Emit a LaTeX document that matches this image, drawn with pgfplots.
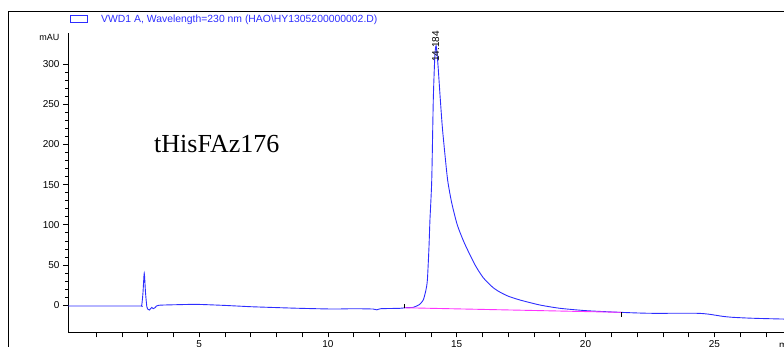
\documentclass[border=0pt]{standalone}
\usepackage{pgfplots}
\pgfplotsset{compat=1.18}
\usepackage{fontspec}
\setmainfont{Liberation Sans}
\newfontfamily\timesfont{Liberation Serif}
\definecolor{curveblue}{RGB}{45,45,255}
\definecolor{pinkline}{RGB}{255,50,255}
\begin{document}
\begin{tikzpicture}[x=1pt,y=1pt]
\useasboundingbox (0,0) rectangle (784,346);
\clip (0,0) rectangle (784,346);
\draw[line width=1pt] (8,-10) -- (8,334) -- (800,334);
\draw[curveblue, line width=0.8pt] (70,331) rectangle (87,323.5);
\node[anchor=base west, inner sep=0, text=curveblue, font=\fontsize{10.4}{12}\selectfont] at (101,323.5) {VWD1 A, Wavelength=230 nm (HAO\textbackslash HY1305200000002.D)};
\node[anchor=east, inner sep=0, font=\fontsize{9}{11}\selectfont] at (59.5,309) {mAU};
\node[anchor=base west, inner sep=0, font=\timesfont\fontsize{26}{30}\selectfont] at (154,193.7) {tHisFAz176};
\begin{axis}[
  at={(68pt,13.7pt)}, anchor=south west, scale only axis,
  width=736.5pt, height=299pt,
  xmin=-0.09, xmax=28.5, ymin=-34, ymax=338.6,
  axis x line*=bottom, axis y line*=left,
  axis line style={-, line width=0.8pt, black},
  tick align=outside,
  major tick length=5pt, minor tick length=3pt,
  tick style={black, line width=0.6pt},
  xtick={5,10,15,20,25},
  extra x ticks={1,2,3,4,6,7,8,9,11,12,13,14,16,17,18,19,21,22,23,24,26,27,28},
  extra x tick labels={},
  ytick={0,50,100,150,200,250,300},
  minor y tick num=4,
  tick label style={font=\fontsize{10}{12}\selectfont},
  /pgf/number format/assume math mode=true,
  clip=false,
]
\addplot[curveblue, line width=0.9pt, smooth, tension=0.4] coordinates {
(-0.09,-1.2) (1.5,-1.2) (2.70,-1.2) (2.77,-0.5) (2.82,15) (2.87,39.5) (2.92,15) (2.97,-2)
(3.02,-5.5) (3.07,-6.2) (3.12,-4.5) (3.16,-3) (3.22,-4.5) (3.28,-3.5) (3.35,-1.2)
(3.48,-0.2) (4.0,0.3) (4.9,0.8) (6.0,-0.5) (7.0,-2.1) (8.0,-3.2) (8.9,-4.1)
(10.2,-5) (11.0,-4.6) (11.75,-5) (11.9,-6) (12.05,-4.6) (12.8,-4.1) (13.0,-3.4)
(13.3,-3.0) (13.38,-2.1) (13.55,0.5) (13.70,6.2) (13.80,18) (13.86,31) (13.92,70)
(13.96,106) (14.03,156) (14.09,256) (14.15,310) (14.20,323) (14.27,300) (14.35,262)
(14.44,222) (14.55,185) (14.65,155) (14.80,128) (15.02,100) (15.3,77) (15.71,50)
(16.03,34) (16.4,22) (16.68,16) (17.0,11) (17.46,6.2) (18.23,0) (19.01,-4.1)
(20.05,-7.1) (21.34,-9.1) (22.5,-10.3) (24.3,-10.3)
(24.8,-11.5) (25.3,-14) (25.7,-15.3) (26.5,-16.5) (27.7,-17.5) (28.5,-18)
};
\addplot[pinkline, line width=0.9pt] coordinates {(12.95,-3.4) (21.37,-9.1)};
\addplot[black, line width=0.6pt] coordinates {(12.95,-4.1) (12.95,1.2)};
\addplot[black, line width=0.6pt] coordinates {(21.37,-9.1) (21.37,-14.6)};
\node[rotate=90, anchor=west, inner sep=0, font=\fontsize{10}{12}\selectfont] at (axis cs:14.184,303) {14.184};
\end{axis}
\node[anchor=base west, inner sep=0, font=\fontsize{10}{12}\selectfont] at (779,-2) {min};
\end{tikzpicture}
\end{document}
